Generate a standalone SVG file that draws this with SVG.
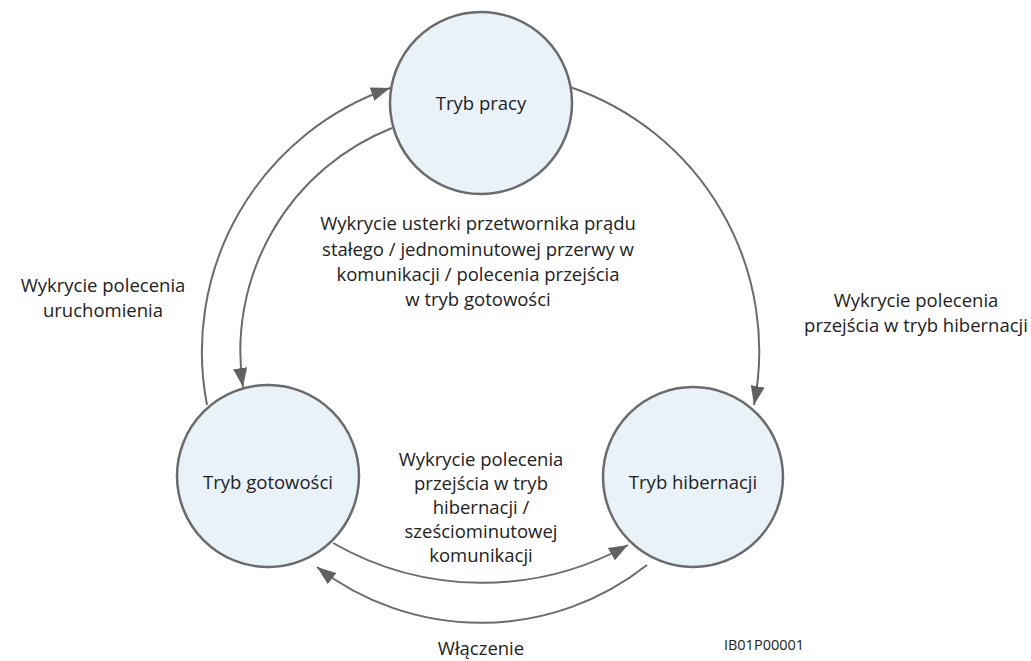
<svg xmlns="http://www.w3.org/2000/svg" width="1031" height="661" viewBox="0 0 1031 661">
<style>
.node{fill:#EAF2F9;stroke:#6b6b6b;stroke-width:2.5}
.lbl{font-family:"Open Sans","Noto Sans","Liberation Sans",sans-serif;font-size:18.5px;fill:#222;text-anchor:middle}
.conn{fill:none;stroke:#6b6b6b;stroke-width:2}
.id{font-family:"Open Sans","Liberation Sans",sans-serif;font-size:14.5px;fill:#222;text-anchor:middle}
</style>
<defs>
<marker id="ah" markerUnits="userSpaceOnUse" markerWidth="20" markerHeight="14" refX="19" refY="7" orient="auto">
<path d="M0,0 L19,7 L0,14 z" fill="#616161"/>
</marker>
</defs>
<rect width="1031" height="661" fill="#ffffff"/>
<g id="connectors">
<path class="conn" d="M 207 405 A 279 279 0 0 1 390 88" marker-end="url(#ah)"/>
<path class="conn" d="M 570 87 A 279 279 0 0 1 754 405" marker-end="url(#ah)"/>
<path class="conn" d="M 392 128 A 240 240 0 0 0 243 387" marker-end="url(#ah)"/>
<path class="conn" d="M 333 543 A 300 300 0 0 0 628 545" marker-end="url(#ah)"/>
<path class="conn" d="M 647 565 A 268 268 0 0 1 317 567" marker-end="url(#ah)"/>
</g>
<g id="node-praca">
<circle class="node" cx="481" cy="103" r="91"/>
<text class="lbl" x="481" y="110">Tryb pracy</text>
</g>
<g id="node-gotowosc">
<circle class="node" cx="268" cy="476" r="91"/>
<text class="lbl" x="268" y="489">Tryb gotowości</text>
</g>
<g id="node-hibernacja">
<circle class="node" cx="693" cy="477" r="90"/>
<text class="lbl" x="693" y="489">Tryb hibernacji</text>
</g>
<g id="labels">
<text class="lbl" x="478" y="230">Wykrycie usterki przetwornika prądu<tspan x="478" dy="25.5">stałego / jednominutowej przerwy w</tspan><tspan x="478" dy="25.5">komunikacji / polecenia przejścia</tspan><tspan x="478" dy="25">w tryb gotowości</tspan></text>
<text class="lbl" x="103" y="292">Wykrycie polecenia<tspan x="103" dy="24.5">uruchomienia</tspan></text>
<text class="lbl" x="916" y="307">Wykrycie polecenia<tspan x="916" dy="24.5">przejścia w tryb hibernacji</tspan></text>
<text class="lbl" x="481" y="466">Wykrycie polecenia<tspan x="481" dy="24">przejścia w tryb</tspan><tspan x="481" dy="24">hibernacji /</tspan><tspan x="481" dy="24">sześciominutowej</tspan><tspan x="481" dy="24">komunikacji</tspan></text>
<text class="lbl" x="481" y="655">Włączenie</text>
<text class="id" x="764" y="650">IB01P00001</text>
</g>
</svg>
